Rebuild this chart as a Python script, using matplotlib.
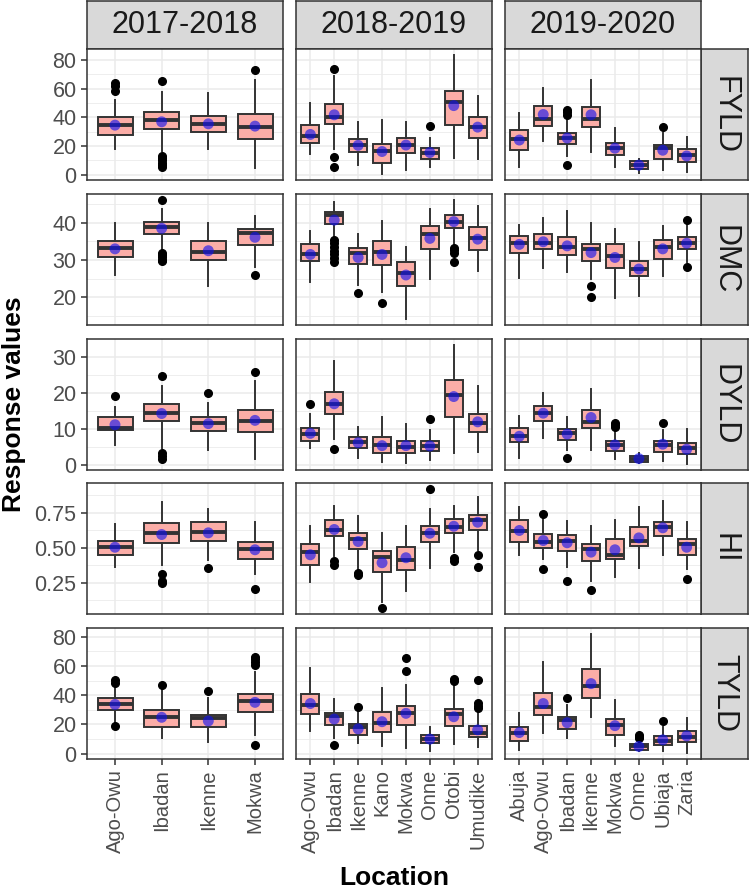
import matplotlib.pyplot as plt
from matplotlib.ticker import MultipleLocator, FormatStrFormatter

plt.rcParams['font.family'] = ['Liberation Sans', 'DejaVu Sans']

# locations per season
LOC_17 = ["Ago-Owu", "Ibadan", "Ikenne", "Mokwa"]
LOC_18 = ["Ago-Owu", "Ibadan", "Ikenne", "Kano", "Mokwa", "Onne", "Otobi", "Umudike"]
LOC_19 = ["Abuja", "Ago-Owu", "Ibadan", "Ikenne", "Mokwa", "Onne", "Ubiaja", "Zaria"]
SEASONS = ["2017-2018", "2018-2019", "2019-2020"]
TRAITS = ["FYLD", "DMC", "DYLD", "HI", "TYLD"]

# box stats per location: (whisker low, q1, median, q3, whisker high, mean)
FYLD_17 = [(18.2, 27.7, 34.4, 40.1, 52.3, 34.6), (16.6, 31.6, 38.5, 43.6, 57.7, 36.9),
           (17.8, 29.7, 35.5, 41.3, 57.0, 35.5), (4.4, 25.2, 33.5, 42.4, 66.2, 33.9)]
FYLD_17_OUT = [[58.5, 62.0, 63.9], [65.3, 13.2, 11.5, 10.0, 8.0, 6.5, 5.1], [], [72.9]]
FYLD_18 = [(14.8, 21.9, 27.0, 34.6, 50.1, 28.1), (17.8, 35.1, 40.1, 49.6, 69.0, 41.8),
           (6.9, 16.2, 20.7, 25.2, 37.1, 20.5), (0.5, 8.1, 16.4, 21.7, 38.5, 16.2),
           (3.5, 15.0, 20.5, 25.6, 36.7, 20.7), (5.5, 11.3, 15.5, 18.7, 25.9, 15.5),
           (11.5, 34.4, 50.5, 58.1, 83.5, 48.2), (10.9, 25.9, 33.2, 40.4, 54.6, 33.2)]
FYLD_18_OUT = [[], [73.6, 12.7, 5.1], [], [], [], [33.9], [], []]
FYLD_19 = [(5.1, 17.3, 24.7, 30.9, 42.7, 24.2), (23.5, 33.9, 39.2, 47.7, 60.4, 42.0),
           (13.1, 21.2, 25.6, 29.0, 38.5, 25.6), (16.2, 33.5, 39.2, 47.3, 66.2, 41.8),
           (5.5, 13.8, 18.5, 22.4, 32.8, 18.5), (1.0, 3.9, 6.7, 9.3, 11.3, 6.7),
           (3.2, 11.3, 19.0, 20.5, 29.3, 17.1), (1.7, 9.0, 13.8, 18.2, 26.3, 13.1)]
FYLD_19_OUT = [[], [], [45.0, 43.5, 42.0, 6.9], [], [], [], [33.2], []]

DMC_17 = [(26.0, 30.9, 33.1, 35.1, 40.0, 33.0), (32.7, 36.9, 38.9, 40.1, 43.8, 38.5),
          (23.0, 30.0, 32.2, 35.1, 39.8, 32.5), (28.2, 34.0, 37.2, 38.3, 41.9, 36.1)]
DMC_17_OUT = [[], [46.1, 31.9, 31.3, 30.7, 30.1, 29.7], [], [26.0]]
DMC_18 = [(24.2, 29.8, 31.5, 34.2, 37.9, 31.5), (36.3, 39.7, 42.1, 42.9, 45.6, 40.7),
          (23.3, 29.0, 32.0, 33.1, 37.0, 30.7), (21.5, 28.7, 32.2, 35.2, 40.5, 31.5),
          (14.2, 23.1, 26.6, 29.4, 33.6, 26.0), (24.9, 32.9, 36.9, 39.1, 43.6, 35.8),
          (34.0, 38.7, 40.3, 42.2, 46.1, 40.3), (27.1, 32.7, 36.0, 38.9, 44.5, 35.6)]
DMC_18_OUT = [[], [35.3, 34.5, 33.5, 32.5, 31.5, 30.5, 29.6], [21.1], [18.6], [], [],
              [33.2, 32.6, 32.0, 29.4], []]
DMC_19 = [(25.3, 31.8, 34.6, 36.5, 39.4, 34.2), (28.0, 32.9, 34.7, 36.9, 41.3, 34.9),
          (26.9, 31.3, 33.6, 36.3, 43.1, 33.8), (24.9, 29.8, 33.0, 34.2, 39.8, 32.0),
          (19.9, 27.9, 31.1, 34.2, 38.3, 30.7), (20.4, 25.7, 27.6, 29.7, 34.9, 27.6),
          (25.7, 30.3, 33.4, 35.4, 39.2, 33.0), (29.6, 33.0, 34.7, 36.1, 39.4, 34.5)]
DMC_19_OUT = [[], [], [], [23.0, 20.2], [], [], [], [40.7, 28.2]]

DYLD_17 = [(5.6, 9.7, 10.4, 13.2, 16.1, 11.2), (4.7, 12.2, 14.4, 17.0, 22.0, 14.3),
           (4.2, 9.4, 11.8, 13.2, 17.3, 11.5), (1.6, 9.1, 12.2, 15.2, 23.4, 12.4)]
DYLD_17_OUT = [[19.1], [24.6, 3.3, 2.5, 1.7], [19.9], [25.7]]
DYLD_18 = [(4.7, 6.7, 8.5, 10.3, 14.3, 8.8), (7.2, 14.3, 17.0, 20.2, 28.9, 17.0),
           (2.1, 4.7, 6.5, 7.9, 10.6, 6.2), (0.8, 3.3, 5.6, 7.9, 13.3, 5.4),
           (0.5, 3.3, 5.1, 6.8, 11.5, 5.4), (1.5, 3.9, 5.3, 6.7, 9.7, 5.3),
           (3.3, 13.3, 19.3, 23.7, 33.3, 19.0), (3.5, 9.1, 11.8, 14.3, 21.8, 12.0)]
DYLD_18_OUT = [[17.0], [4.4], [], [], [], [12.7], [], []]
DYLD_19 = [(1.9, 6.3, 8.2, 10.3, 13.5, 8.0), (7.4, 12.2, 14.4, 16.3, 20.0, 14.4),
           (4.2, 6.9, 8.9, 10.1, 13.2, 8.6), (4.2, 10.3, 12.0, 15.4, 21.1, 13.2),
           (1.6, 3.9, 5.6, 6.8, 9.5, 5.6), (0.7, 1.0, 1.8, 2.6, 3.3, 1.8),
           (1.2, 3.5, 5.6, 6.8, 9.7, 5.8), (0.3, 3.0, 4.8, 6.2, 9.9, 4.4)]
DYLD_19_OUT = [[], [], [1.9], [], [11.8, 11.2, 10.6], [], [11.8], []]

HI_17 = [(0.366, 0.452, 0.504, 0.552, 0.671, 0.504), (0.374, 0.536, 0.607, 0.676, 0.826, 0.595),
         (0.416, 0.547, 0.611, 0.683, 0.779, 0.607), (0.309, 0.421, 0.493, 0.540, 0.683, 0.486)]
HI_17_OUT = [[], [0.314, 0.266, 0.245], [0.357], [0.207]]
HI_18 = [(0.254, 0.379, 0.469, 0.524, 0.659, 0.450), (0.438, 0.581, 0.629, 0.702, 0.797, 0.631),
         (0.350, 0.493, 0.564, 0.604, 0.724, 0.545), (0.111, 0.326, 0.433, 0.476, 0.607, 0.393),
         (0.190, 0.343, 0.416, 0.509, 0.659, 0.429), (0.354, 0.545, 0.604, 0.659, 0.779, 0.604),
         (0.469, 0.607, 0.647, 0.707, 0.797, 0.654), (0.486, 0.629, 0.700, 0.738, 0.866, 0.683)]
HI_18_OUT = [[], [0.404, 0.374], [0.322, 0.307], [0.069], [], [0.921], [0.429, 0.409],
             [0.452, 0.366]]
HI_19 = [(0.445, 0.540, 0.619, 0.700, 0.790, 0.624), (0.421, 0.500, 0.540, 0.600, 0.705, 0.552),
         (0.366, 0.476, 0.552, 0.593, 0.695, 0.536), (0.266, 0.409, 0.488, 0.529, 0.659, 0.469),
         (0.290, 0.421, 0.452, 0.564, 0.700, 0.486), (0.354, 0.516, 0.552, 0.647, 0.790, 0.571),
         (0.445, 0.583, 0.647, 0.688, 0.833, 0.643), (0.350, 0.452, 0.529, 0.564, 0.683, 0.504)]
HI_19_OUT = [[], [0.743, 0.350], [0.261], [0.195], [], [], [], [0.279]]

TYLD_17 = [(21.2, 29.8, 33.7, 37.8, 46.8, 33.7), (10.6, 18.5, 24.9, 29.8, 43.4, 24.9),
           (8.3, 18.1, 24.6, 26.4, 37.8, 22.4), (12.9, 28.7, 36.2, 41.1, 55.8, 35.1)]
TYLD_17_OUT = [[50.2, 48.4, 19.0], [46.8], [42.7], [66.0, 64.5, 62.9, 60.5, 6.1]]
TYLD_18 = [(15.8, 27.1, 33.2, 41.1, 58.8, 34.3), (10.6, 19.7, 25.8, 28.0, 37.3, 23.7),
           (7.2, 12.9, 18.5, 20.1, 28.7, 17.0), (5.0, 15.1, 20.8, 28.2, 45.2, 21.9),
           (3.9, 19.7, 27.6, 32.8, 46.8, 27.6), (1.6, 7.2, 10.0, 12.7, 18.5, 10.0),
           (6.6, 19.2, 26.9, 30.5, 46.1, 25.3), (4.5, 11.3, 14.0, 19.2, 28.7, 16.3)]
TYLD_18_OUT = [[], [6.1], [31.7], [], [65.6, 56.3], [], [51.3, 49.7], [50.6, 34.4, 32.6, 31.4]]
TYLD_19 = [(2.7, 9.0, 14.5, 18.1, 28.0, 14.5), (14.5, 26.4, 32.1, 41.8, 62.6, 34.3),
           (11.1, 16.7, 23.1, 25.3, 33.2, 21.2), (25.3, 37.8, 46.1, 58.1, 81.8, 47.9),
           (5.0, 12.9, 19.7, 23.7, 36.6, 19.2), (2.0, 2.7, 5.0, 6.6, 8.3, 5.0),
           (1.6, 6.1, 8.8, 12.4, 18.5, 9.5), (0.5, 8.3, 11.7, 15.8, 24.2, 12.2)]
TYLD_19_OUT = [[], [], [38.4], [], [], [12.9, 11.6, 10.6], [22.4], []]

YTICKS = {"FYLD": [0, 20, 40, 60, 80], "DMC": [20, 30, 40], "DYLD": [0, 10, 20, 30],
          "HI": [0.25, 0.50, 0.75], "TYLD": [0, 20, 40, 60, 80]}

LOCS = [LOC_17, LOC_18, LOC_19]
PANELS = {
    "FYLD": [(FYLD_17, FYLD_17_OUT), (FYLD_18, FYLD_18_OUT), (FYLD_19, FYLD_19_OUT)],
    "DMC": [(DMC_17, DMC_17_OUT), (DMC_18, DMC_18_OUT), (DMC_19, DMC_19_OUT)],
    "DYLD": [(DYLD_17, DYLD_17_OUT), (DYLD_18, DYLD_18_OUT), (DYLD_19, DYLD_19_OUT)],
    "HI": [(HI_17, HI_17_OUT), (HI_18, HI_18_OUT), (HI_19, HI_19_OUT)],
    "TYLD": [(TYLD_17, TYLD_17_OUT), (TYLD_18, TYLD_18_OUT), (TYLD_19, TYLD_19_OUT)],
}

W, H = 750, 890
fig = plt.figure(figsize=(W / 100, H / 100), dpi=100)


def rect(x, y, w, h):
    return [x / W, 1 - (y + h) / H, w / W, h / H]


lefts = [87, 296, 505]
tops = [49, 194, 339, 483, 628]
pw, ph = 196, 131
edge = "#333333"


def strip(x, y, w, h, label, rot):
    sa = fig.add_axes(rect(x, y, w, h))
    sa.set_facecolor("#D9D9D9")
    sa.set_xticks([])
    sa.set_yticks([])
    for s in sa.spines.values():
        s.set_color(edge)
        s.set_linewidth(1.1)
    sa.text(0.5, 0.5, label, rotation=rot, ha="center", va="center",
            fontsize=22, color="#1A1A1A", transform=sa.transAxes)


for j, season in enumerate(SEASONS):
    strip(lefts[j], 1, pw, 48, season, 0)

for i, trait in enumerate(TRAITS):
    strip(lefts[2] + pw, tops[i], 47, ph, trait, -90)

    # shared y range for the row (5% expansion like ggplot)
    vals = []
    for stats, outs in PANELS[trait]:
        for s, o in zip(stats, outs):
            vals += [s[0], s[4]] + o
    lo, hi = min(vals), max(vals)
    pad = (hi - lo) * 0.05
    ylim = (lo - pad, hi + pad)
    step = YTICKS[trait][1] - YTICKS[trait][0]

    for j in range(3):
        ax = fig.add_axes(rect(lefts[j], tops[i], pw, ph))
        stats, outs = PANELS[trait][j]
        locs = LOCS[j]
        pos = list(range(1, len(locs) + 1))
        bstats = [dict(whislo=s[0], q1=s[1], med=s[2], q3=s[3], whishi=s[4],
                       fliers=o, label=l) for s, o, l in zip(stats, outs, locs)]
        ax.bxp(bstats, positions=pos, widths=0.75, patch_artist=True, showcaps=False,
               boxprops=dict(facecolor="#FBADA7", edgecolor=edge, linewidth=1.4),
               whiskerprops=dict(color=edge, linewidth=1.4),
               medianprops=dict(color=edge, linewidth=2.8),
               flierprops=dict(marker="o", markerfacecolor="black", markeredgecolor="black",
                               markersize=5.5),
               zorder=3)
        ax.scatter(pos, [s[5] for s in stats], s=62, color="#1010F0", alpha=0.62,
                   edgecolors="none", zorder=5)

        ax.set_xlim(0.4, len(locs) + 0.6)
        ax.set_ylim(*ylim)
        ax.set_yticks(YTICKS[trait])
        ax.yaxis.set_minor_locator(MultipleLocator(step / 2))
        if trait == "HI":
            ax.yaxis.set_major_formatter(FormatStrFormatter("%.2f"))
        ax.grid(True, which="major", color="#EBEBEB", linewidth=1.1, zorder=0)
        ax.grid(True, which="minor", axis="y", color="#EBEBEB", linewidth=0.6, zorder=0)
        ax.set_axisbelow(True)
        for s in ax.spines.values():
            s.set_color(edge)
            s.set_linewidth(1.1)
        ax.tick_params(which="major", length=4.5, width=1.1, color=edge, labelcolor="#4D4D4D",
                       labelsize=15.5, pad=3)
        ax.tick_params(which="minor", length=0)
        if j > 0:
            ax.tick_params(axis="y", which="both", length=0, labelleft=False)
        ax.set_xticks(pos)
        if i == len(TRAITS) - 1:
            ax.set_xticklabels(locs, rotation=90, ha="center", va="top")
            ax.tick_params(axis="x", labelsize=14.5)
        else:
            ax.tick_params(axis="x", length=0, labelbottom=False)

fig.text(14 / W, 1 - 404 / H, "Response values", rotation=90, ha="center", va="center",
         fontsize=19, fontweight="bold")
fig.text(394 / W, 1 - 878 / H, "Location", ha="center", va="center",
         fontsize=19, fontweight="bold")

fig.savefig("out.png", dpi=100)
